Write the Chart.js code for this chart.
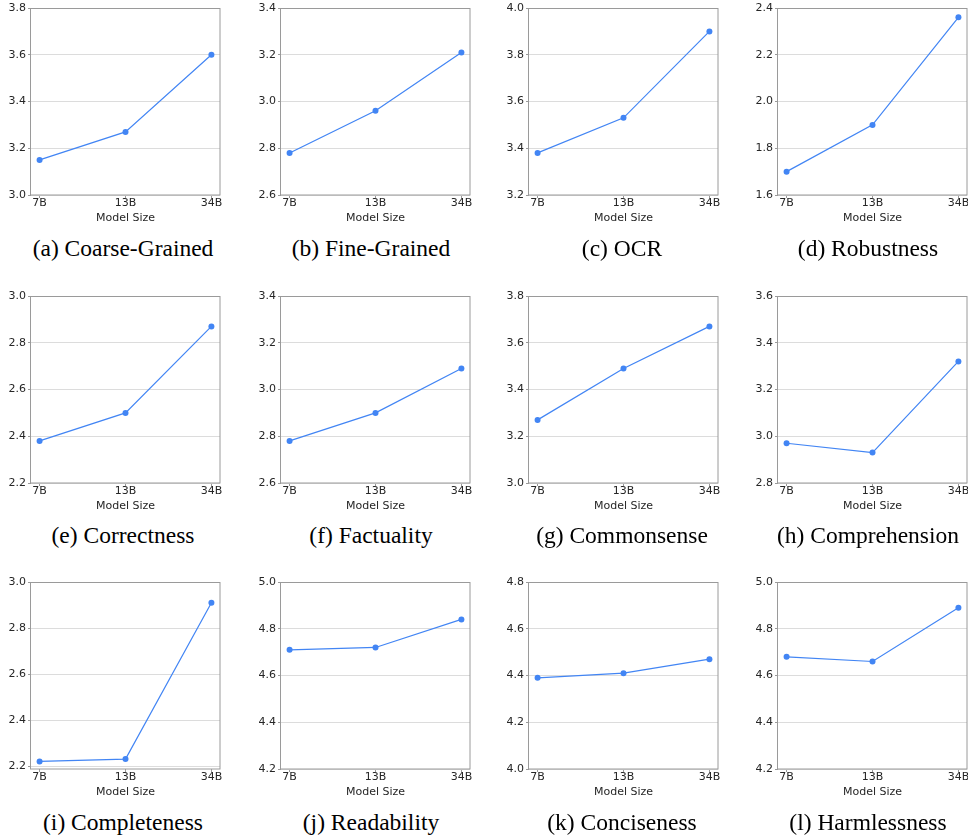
<!DOCTYPE html>
<html>
<head>
<meta charset="utf-8">
<script src="https://cdn.jsdelivr.net/npm/chart.js@4.4.1/dist/chart.umd.min.js"></script>
<style>
  html, body { margin: 0; padding: 0; background: #ffffff; width: 968px; height: 836px; overflow: hidden; }
  #wrap { position: relative; width: 968px; height: 836px; overflow: hidden; }
  .panel { position: absolute; }
  .cap { position: absolute; width: 260px; height: 30px; line-height: 30px; text-align: center;
         font-family: "Liberation Serif", "DejaVu Serif", serif; font-size: 23.5px; color: #000; white-space: nowrap; }
</style>
</head>
<body>
<div id="wrap"></div>
<script>
// ---------- data ----------
const categories = ['7B', '13B', '34B'];

const coarseGrained = [3.15, 3.27, 3.60];
const fineGrained   = [2.78, 2.96, 3.21];
const ocr           = [3.38, 3.53, 3.90];
const robustness    = [1.70, 1.90, 2.36];
const correctness   = [2.38, 2.50, 2.87];
const factuality    = [2.78, 2.90, 3.09];
const commonsense   = [3.27, 3.49, 3.67];
const comprehension = [2.97, 2.93, 3.32];
const completeness  = [2.22, 2.23, 2.91];
const readability   = [4.71, 4.72, 4.84];
const conciseness   = [4.39, 4.41, 4.47];
const harmlessness  = [4.68, 4.66, 4.89];

const ticksA = [3.0, 3.2, 3.4, 3.6, 3.8];
const ticksB = [2.6, 2.8, 3.0, 3.2, 3.4];
const ticksC = [3.2, 3.4, 3.6, 3.8, 4.0];
const ticksD = [1.6, 1.8, 2.0, 2.2, 2.4];
const ticksE = [2.2, 2.4, 2.6, 2.8, 3.0];
const ticksF = [2.6, 2.8, 3.0, 3.2, 3.4];
const ticksG = [3.0, 3.2, 3.4, 3.6, 3.8];
const ticksH = [2.8, 3.0, 3.2, 3.4, 3.6];
const ticksI = [2.2, 2.4, 2.6, 2.8, 3.0];
const ticksJ = [4.2, 4.4, 4.6, 4.8, 5.0];
const ticksK = [4.0, 4.2, 4.4, 4.6, 4.8];
const ticksL = [4.2, 4.4, 4.6, 4.8, 5.0];

const captions = ['(a) Coarse-Grained', '(b) Fine-Grained', '(c) OCR', '(d) Robustness',
                  '(e) Correctness', '(f) Factuality', '(g) Commonsense', '(h) Comprehension',
                  '(i) Completeness', '(j) Readability', '(k) Conciseness', '(l) Harmlessness'];

const seriesList = [coarseGrained, fineGrained, ocr, robustness,
                    correctness, factuality, commonsense, comprehension,
                    completeness, readability, conciseness, harmlessness];
const tickList = [ticksA, ticksB, ticksC, ticksD, ticksE, ticksF,
                  ticksG, ticksH, ticksI, ticksJ, ticksK, ticksL];
// panel (i) lower limit sits slightly below its lowest tick
const yMinOverride = { 8: 2.187 };

// ---------- layout / style ----------
const colLeft = [0, 249.5, 498, 747];
const rowTop = [0, 287.5, 574];
const capCenterX = [123, 371, 622, 868];
const capTop = [233, 520, 807];
const lineColor = '#4285f4';
const frameColor = '#9a9a9a';
const gridColor = '#dcdcdc';
const textColor = '#262626';

Chart.defaults.font.family = '"DejaVu Sans", sans-serif';
Chart.defaults.font.size = 11;
Chart.defaults.color = textColor;

const framePlugin = {
  id: 'frame',
  beforeDatasetsDraw(chart) {
    const a = chart.chartArea;
    const c = chart.ctx;
    c.save();
    c.strokeStyle = frameColor;
    c.lineWidth = 1;
    c.strokeRect(Math.round(a.left) - 0.5, Math.round(a.top) + 0.5,
                 Math.round(a.right - a.left) + 0.5, Math.round(a.bottom - a.top) - 0.5);
    c.restore();
  }
};

const wrap = document.getElementById('wrap');

seriesList.forEach((vals, idx) => {
  const col = idx % 4, row = Math.floor(idx / 4);
  const div = document.createElement('div');
  div.className = 'panel';
  div.style.left = colLeft[col] + 'px';
  div.style.top = rowTop[row] + 'px';
  const cv = document.createElement('canvas');
  cv.width = 250; cv.height = 230;
  cv.style.width = '250px'; cv.style.height = '230px';
  div.appendChild(cv);
  wrap.appendChild(div);

  const cap = document.createElement('div');
  cap.className = 'cap';
  cap.textContent = captions[idx];
  cap.style.left = (capCenterX[col] - 130) + 'px';
  cap.style.top = capTop[row] + 'px';
  wrap.appendChild(cap);

  const ticks = tickList[idx];
  const yMin = (idx in yMinOverride) ? yMinOverride[idx] : ticks[0];
  const yMax = ticks[ticks.length - 1];

  new Chart(cv, {
    type: 'line',
    data: {
      datasets: [{
        data: vals.map((v, i) => ({ x: i, y: v })),
        borderColor: lineColor,
        backgroundColor: lineColor,
        borderWidth: 1.2,
        pointRadius: 3,
        pointBorderWidth: 0,
        pointBackgroundColor: lineColor,
        tension: 0,
        fill: false
      }]
    },
    options: {
      responsive: false,
      animation: false,
      devicePixelRatio: 1,
      layout: { padding: { top: 8, right: 30, left: 0, bottom: 3 } },
      plugins: { legend: { display: false }, tooltip: { enabled: false } },
      scales: {
        x: {
          type: 'linear',
          min: -0.1, max: 2.1,
          afterBuildTicks: (s) => { s.ticks = categories.map((_, i) => ({ value: i })); },
          afterFit: (s) => { s.height = 32; s.paddingLeft = 0; s.paddingRight = 0; },
          ticks: { callback: (v) => categories[v] ?? '', padding: -1, maxRotation: 0, autoSkip: false, color: textColor },
          grid: { drawOnChartArea: false, drawTicks: true, tickLength: 3, tickColor: frameColor, color: frameColor },
          border: { display: false },
          title: { display: true, text: 'Model Size', color: textColor, font: { size: 11 }, padding: { top: 0, bottom: 2 } }
        },
        y: {
          min: yMin, max: yMax,
          afterBuildTicks: (s) => { s.ticks = ticks.map(v => ({ value: v })); },
          afterFit: (s) => { s.width = 31; s.paddingTop = 0; s.paddingBottom = 0; },
          ticks: { callback: (v) => Number(v).toFixed(1), padding: 2, color: textColor },
          grid: { color: gridColor, lineWidth: 1, drawTicks: true, tickLength: 3, tickColor: frameColor },
          border: { display: false }
        }
      }
    },
    plugins: [framePlugin]
  });
});
</script>
</body>
</html>
